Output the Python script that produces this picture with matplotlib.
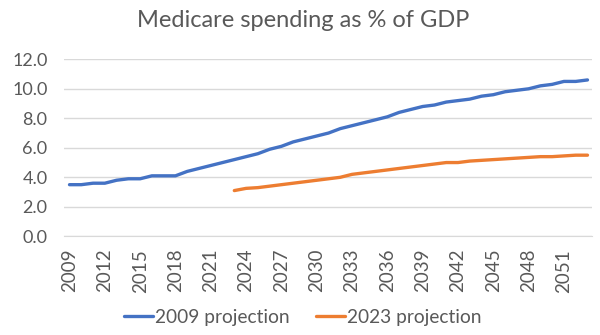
import matplotlib
matplotlib.use("Agg")
import matplotlib.pyplot as plt
import numpy as np

years_2009 = list(range(2009, 2054))
proj_2009 = [3.5, 3.5, 3.6, 3.6, 3.8, 3.9, 3.9, 4.1, 4.1, 4.1,
             4.4, 4.6, 4.8, 5.0, 5.2, 5.4, 5.6, 5.9, 6.1, 6.4,
             6.6, 6.8, 7.0, 7.3, 7.5, 7.7, 7.9, 8.1, 8.4, 8.6,
             8.8, 8.9, 9.1, 9.2, 9.3, 9.5, 9.6, 9.8, 9.9, 10.0,
             10.2, 10.3, 10.5, 10.5, 10.6]
years_2023 = list(range(2023, 2054))
proj_2023 = [3.1, 3.25, 3.3, 3.4, 3.5, 3.6, 3.7, 3.8, 3.9, 4.0,
             4.2, 4.3, 4.4, 4.5, 4.6, 4.7, 4.8, 4.9, 5.0, 5.0,
             5.1, 5.15, 5.2, 5.25, 5.3, 5.35, 5.4, 5.4, 5.45, 5.5, 5.5]
xtick_years = list(range(2009, 2052, 3))
yticks = [0, 2, 4, 6, 8, 10, 12]

title = "Medicare spending as % of GDP"
labels = ["2009 projection", "2023 projection"]
colors = ["#4472C4", "#ED7D31"]
text_color = "#595959"

plt.rcParams['font.family'] = ['Lato', 'DejaVu Sans']

fig = plt.figure(figsize=(6.0, 3.35), dpi=100)
ax = fig.add_axes([0.107, 0.2946, 0.88, 0.5284])

ax.plot(years_2009, proj_2009, color=colors[0], lw=2.4, label=labels[0], solid_capstyle='round')
ax.plot(years_2023, proj_2023, color=colors[1], lw=2.4, label=labels[1], solid_capstyle='round')

ax.set_ylim(0, 12)
ax.set_xlim(2008.55, 2053.4)
ax.set_yticks(yticks)
ax.set_yticklabels([f"{v:.1f}" for v in yticks])
ax.set_xticks(xtick_years)
ax.set_xticklabels([str(y) for y in xtick_years], rotation=90)
ax.grid(axis='y', color='#D9D9D9', lw=1)
ax.set_axisbelow(True)
for s in ['top', 'right', 'left']:
    ax.spines[s].set_visible(False)
ax.spines['bottom'].set_color('#D9D9D9')
ax.tick_params(axis='both', length=0, colors=text_color)
ax.tick_params(axis='x', pad=9, labelsize=13.5)
ax.tick_params(axis='y', pad=12, labelsize=13)

fig.suptitle(title, x=0.505, y=0.97, fontsize=17, color=text_color)

leg = fig.legend(loc='center', bbox_to_anchor=(0.505, 0.053), ncol=2, frameon=False,
                 fontsize=13.8, handlelength=1.5, handletextpad=0.1, columnspacing=1.4)
for t in leg.get_texts():
    t.set_color(text_color)

fig.savefig("out.png", dpi=100)
